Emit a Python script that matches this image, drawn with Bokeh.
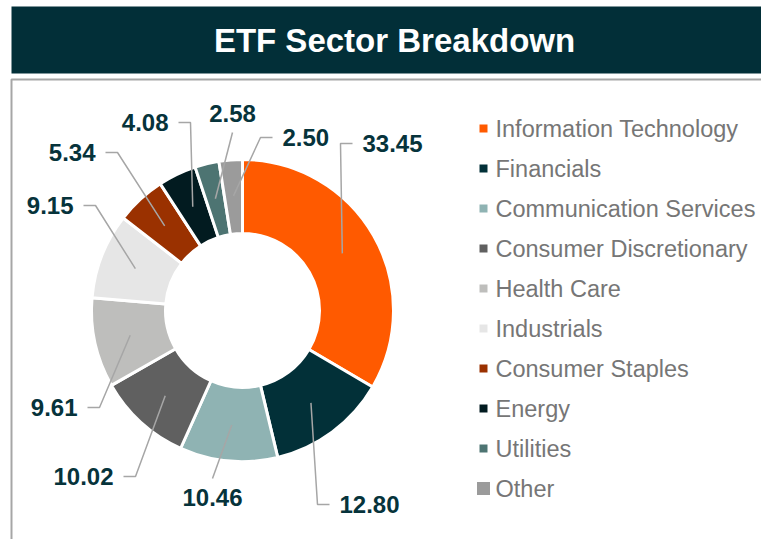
import numpy as np
from bokeh.plotting import figure
from bokeh.models import Range1d, ColumnDataSource
from bokeh.core.properties import value
from bokeh.embed import file_html
from bokeh.resources import INLINE

# ---------------- data ----------------
chart_title = "ETF Sector Breakdown"
sectors = ["Information Technology", "Financials", "Communication Services",
           "Consumer Discretionary", "Health Care", "Industrials",
           "Consumer Staples", "Energy", "Utilities", "Other"]
weights = [33.45, 12.80, 10.46, 10.02, 9.61, 9.15, 5.34, 4.08, 2.58, 2.50]
colors = ["#FF5A00", "#023038", "#8FB3B3", "#606060", "#BEBEBC",
          "#E6E6E6", "#9A3100", "#021B20", "#4D7472", "#9B9B9B"]
labels = [f"{w:.2f}" for w in weights]

# ---------------- layout (picture pixels, y down) ----------------
W, H = 761, 539
label_x = [362, 339, 212, 113, 77, 73, 95, 168, 232, 282]
label_y = [143, 504, 497, 476, 407, 205, 152, 122, 113, 137]
label_align = ["left", "left", "center", "right", "right", "right",
               "right", "right", "center", "left"]

def Y(y_img):
    return H - y_img

FONT = value("Liberation Sans")
cx, cy = 242, Y(310)
r_in, r_out, r_anchor = 77, 151, 115

p = figure(width=W, height=H, output_backend="svg", toolbar_location=None,
           x_range=Range1d(0, W), y_range=Range1d(0, H),
           min_border=0, outline_line_color=None, background_fill_color="white",
           border_fill_color="white", x_axis_type=None, y_axis_type=None)
p.grid.visible = False

# title bar
p.quad(left=[11], right=[W + 5], top=[Y(6)], bottom=[Y(73)], fill_color="#022F38",
       line_color=None)
p.text(x=[394], y=[Y(40)], text=[chart_title], text_color="white",
       text_font=FONT, text_font_style="bold", text_font_size="33px",
       text_align="center", text_baseline="middle")

# frame
p.line(x=[11, 11, W + 5], y=[Y(H + 5), Y(79), Y(79)], line_color="#A6A6A6",
       line_width=2)

# donut
tot = sum(weights)
cum = np.concatenate([[0], np.cumsum(weights)]) / tot
start = np.pi / 2 - 2 * np.pi * cum[1:]
end = np.pi / 2 - 2 * np.pi * cum[:-1]
src = ColumnDataSource(dict(start=start, end=end, color=colors))
p.annular_wedge(x=cx, y=cy, inner_radius=r_in, outer_radius=r_out,
                start_angle="start", end_angle="end", fill_color="color",
                line_color="white", line_width=3, source=src)

# leader lines and labels
mid = (cum[1:] + cum[:-1]) / 2
theta = np.pi / 2 - 2 * np.pi * mid
ax = cx + r_anchor * np.cos(theta)
ay = cy + r_anchor * np.sin(theta)
xs, ys = [], []
for i in range(len(weights)):
    lx, ly = label_x[i], Y(label_y[i])
    if label_align[i] == "left":
        xs.append([ax[i], lx - 22, lx - 10]); ys.append([ay[i], ly, ly])
    elif label_align[i] == "right":
        xs.append([ax[i], lx + 22, lx + 10]); ys.append([ay[i], ly, ly])
    else:
        sgn = 1 if ly < cy else -1
        xs.append([ax[i], lx]); ys.append([ay[i], ly + sgn * 19])
p.multi_line(xs=xs, ys=ys, line_color="#A6A6A6", line_width=1.5)
for al in ("left", "right", "center"):
    idx = [i for i in range(len(weights)) if label_align[i] == al]
    p.text(x=[label_x[i] for i in idx], y=[Y(label_y[i]) for i in idx],
           text=[labels[i] for i in idx], text_color="#06333B", text_font=FONT,
           text_font_style="bold", text_font_size="24px", text_align=al,
           text_baseline="middle")

# legend
leg_y = [Y(128 + 40 * i) for i in range(len(sectors))]
leg_size = [8] * (len(sectors) - 1) + [13]
p.scatter(x=[483] * len(sectors), y=leg_y, marker="square", size=leg_size,
          fill_color=colors, line_color=None)
p.text(x=[495] * len(sectors), y=leg_y, text=sectors, text_color="#767676",
       text_font=FONT, text_font_size="23.5px", text_align="left",
       text_baseline="middle")

open("out.html", "w").write(file_html(p, INLINE))
